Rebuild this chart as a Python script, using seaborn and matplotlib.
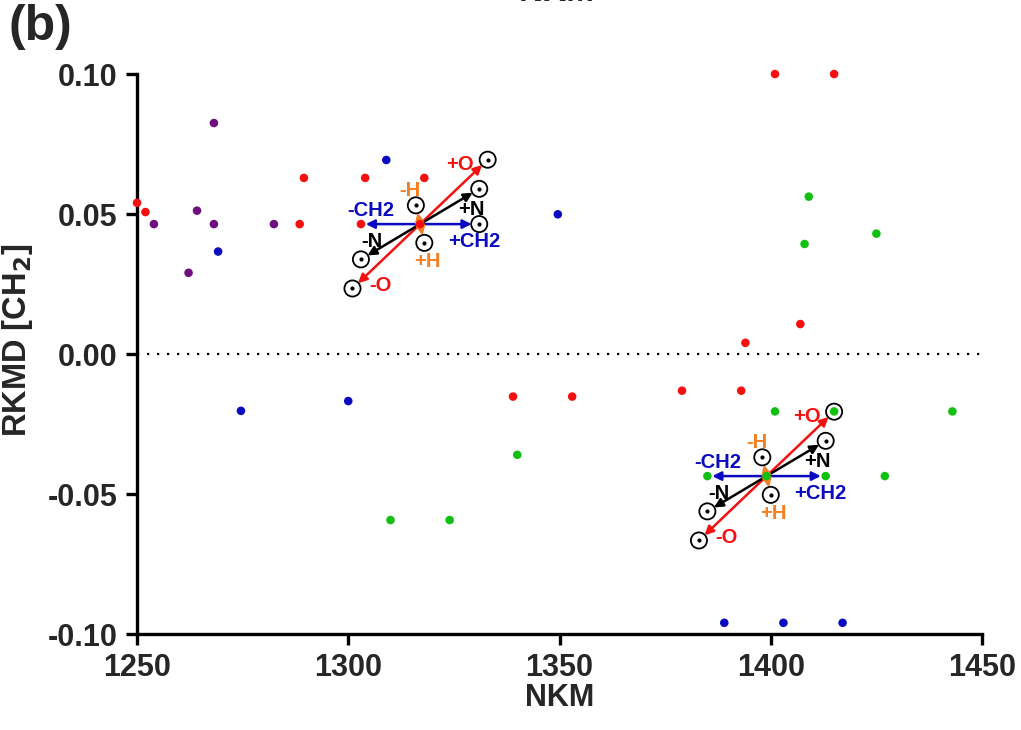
import numpy as np
import pandas as pd
import seaborn as sns
import matplotlib.pyplot as plt

# data
red_x = [1250, 1252, 1288.5, 1289.5, 1303, 1304, 1317, 1318, 1339, 1353, 1379, 1393, 1394, 1407, 1401, 1415]
red_y = [0.054, 0.0507, 0.0464, 0.0629, 0.0464, 0.0629, 0.0464, 0.0629, -0.0152, -0.0152, -0.0131, -0.0131, 0.0040, 0.0107, 0.100, 0.100]

blue_x = [1269.2, 1309, 1349.6, 1274.6, 1300, 1389, 1403, 1417]
blue_y = [0.0366, 0.0693, 0.0499, -0.0203, -0.0168, -0.096, -0.096, -0.096]

purple_x = [1254, 1264.2, 1268.2, 1268.2, 1282.4, 1262.2]
purple_y = [0.0464, 0.0512, 0.0825, 0.0464, 0.0464, 0.029]

green_x = [1310, 1324, 1340, 1385, 1399, 1413, 1427, 1401, 1415, 1443, 1409, 1408, 1425]
green_y = [-0.0593, -0.0593, -0.036, -0.0436, -0.0436, -0.0436, -0.0436, -0.0205, -0.0205, -0.0205, 0.0562, 0.0393, 0.043]

# mass shift vectors (NKM, RKMD)
shift_names = ['+O', '-O', '+N', '-N', '+CH2', '-CH2', '-H', '+H']
shift_dx = [16, -16, 14, -14, 14, -14, -1, 1]
shift_dy = [0.0230, -0.0230, 0.0126, -0.0126, 0.0, 0.0, 0.0067, -0.0067]

# cluster centres and which shifted positions are circled
centre_x = [1317, 1399]
centre_y = [0.0464, -0.0436]
circled = [['+O', '-O', '+N', '-N', '+CH2', '-H', '+H'],
           ['+O', '-O', '+N', '-N', '-H', '+H']]

xticks = [1250, 1300, 1350, 1400, 1450]
yticks = [-0.10, -0.05, 0.00, 0.05, 0.10]

RED = '#f51010'
BLUE = '#0a0ac0'
PURPLE = '#6e0f7e'
GREEN = '#12c012'
ORANGE = '#f57f20'
BLACK = '#000000'
shift_colors = {'+O': RED, '-O': RED, '+N': BLACK, '-N': BLACK,
                '+CH2': BLUE, '-CH2': BLUE, '-H': ORANGE, '+H': ORANGE}
# label offsets from the centre, in pixels (right, down)
label_px = {'+O': (40, -60), '-O': (-40, 61), '+N': (51, -15), '-N': (-48, 17),
            '+CH2': (54, 17), '-CH2': (-49, -14), '-H': (-10, -34), '+H': (7, 37)}

df = pd.concat([
    pd.DataFrame({'nkm': red_x, 'rkmd': red_y, 'grp': 'red'}),
    pd.DataFrame({'nkm': blue_x, 'rkmd': blue_y, 'grp': 'blue'}),
    pd.DataFrame({'nkm': purple_x, 'rkmd': purple_y, 'grp': 'purple'}),
    pd.DataFrame({'nkm': green_x, 'rkmd': green_y, 'grp': 'green'}),
], ignore_index=True)

sns.set_style('ticks')
plt.rcParams['font.family'] = ['Liberation Sans', 'DejaVu Sans']
plt.rcParams['font.weight'] = 'bold'
plt.rcParams['axes.unicode_minus'] = False

fig = plt.figure(figsize=(10.21, 7.30), dpi=100)
ax = fig.add_axes([0.1342, 0.1315, 0.9618 - 0.1342, 0.8986 - 0.1315])

ax.axhline(0, color='black', lw=1.6, ls=(0, (1, 3.5)), zorder=1)

# arrows and circles
for k in range(len(centre_x)):
    cx, cy = centre_x[k], centre_y[k]
    for name, dx, dy in zip(shift_names, shift_dx, shift_dy):
        tx, ty = cx + dx, cy + dy
        circ = name in circled[k]
        ax.annotate('', xy=(tx, ty), xytext=(cx, cy),
                    arrowprops=dict(arrowstyle='-|>', color=shift_colors[name], lw=1.8,
                                    mutation_scale=13, shrinkA=0,
                                    shrinkB=5.5 if circ else 3.5),
                    zorder=2)
        if circ:
            ax.scatter([tx], [ty], s=135, facecolors='none', edgecolors='black',
                       linewidths=1.3, zorder=3, clip_on=False)
            ax.scatter([tx], [ty], s=4, color='black', zorder=3, clip_on=False)
        ox, oy = label_px[name]
        ax.annotate(name, xy=(cx, cy), xytext=(ox * 0.72, -oy * 0.72),
                    textcoords='offset points', ha='center', va='center',
                    color=shift_colors[name], fontsize=14.5, fontweight='bold', zorder=4)

sns.scatterplot(data=df, x='nkm', y='rkmd', hue='grp',
                palette={'red': RED, 'blue': BLUE, 'purple': PURPLE, 'green': GREEN},
                s=38, edgecolor='none', legend=False, ax=ax, zorder=5, clip_on=False)

ax.set_xlim(1250, 1450)
ax.set_ylim(-0.10, 0.10)
ax.set_xticks(xticks)
ax.set_yticks(yticks)
ax.set_xticklabels([str(t) for t in xticks])
ax.set_yticklabels(['%.2f' % t for t in yticks])
ax.tick_params(width=2.4, length=8, labelsize=22, pad=6, color='black')
for lab in ax.get_xticklabels() + ax.get_yticklabels():
    lab.set_fontweight('bold')
sns.despine(ax=ax)
for sp in ['left', 'bottom']:
    ax.spines[sp].set_linewidth(2.4)
    ax.spines[sp].set_color('black')

ax.set_xlabel('NKM', fontsize=22, fontweight='bold', labelpad=0)
ax.set_ylabel('RKMD [CH$_\\mathbf{2}$]', fontsize=23.5, fontweight='bold')
ax.yaxis.set_label_coords(-0.121, 0.525)

fig.text(0.545, 0.989, 'NKM', ha='center', va='bottom', fontsize=24, fontweight='bold')
fig.text(0.008, 0.995, '(b)', ha='left', va='top', fontsize=36, fontweight='bold')

fig.savefig('out.png', dpi=100)
